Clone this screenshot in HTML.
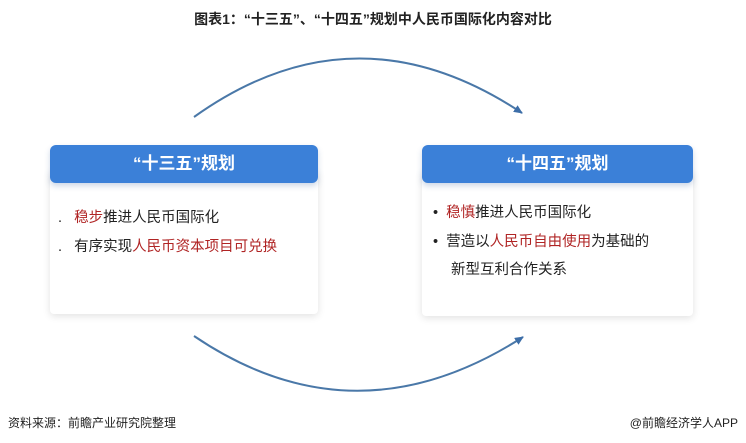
<!DOCTYPE html>
<html><head><meta charset="utf-8"><style>
body{margin:0;width:746px;height:443px;background:#fff;font-family:"Liberation Sans","Noto Sans CJK SC",sans-serif;position:relative;overflow:hidden}
.t{position:absolute;white-space:nowrap}
.hd{position:absolute;height:38px;background:#3b80d8;border-radius:6px;color:#fff;font-weight:bold;font-size:17px;text-align:center;line-height:38px;box-shadow:0 3px 6px rgba(60,100,160,.25)}
.bd{position:absolute;background:#fff;box-shadow:0 2px 8px rgba(0,0,0,.12);border-radius:4px}
.r{color:#b02424}
.li{font-size:14.5px;color:#222}
</style></head><body>
<div class="t" style="left:0;width:746px;text-align:center;top:9px;font-size:14px;font-weight:bold;color:#222">图表1：“十三五”、“十四五”规划中人民币国际化内容对比</div>
<svg width="746" height="443" style="position:absolute;left:0;top:0">
<defs><marker id="a" markerUnits="userSpaceOnUse" markerWidth="10" markerHeight="10" refX="8" refY="4" orient="auto"><path d="M0,0 L9,4 L0,8 z" fill="#3d6ea8"/></marker></defs>
<path d="M194,117 Q355,2 522,113" fill="none" stroke="#4a78a8" stroke-width="2" marker-end="url(#a)"/>
<path d="M194,336 Q355,445 523,337" fill="none" stroke="#4a78a8" stroke-width="2" marker-end="url(#a)"/>
</svg>
<div class="bd" style="left:50px;top:170px;width:268px;height:144px"></div>
<div class="bd" style="left:422px;top:170px;width:271px;height:146px"></div>
<div class="hd" style="left:50px;top:145px;width:268px">“十三五”规划</div>
<div class="hd" style="left:422px;top:145px;width:271px">“十四五”规划</div>
<div class="t li" style="left:58px;top:206px">.&nbsp;&nbsp;&nbsp;<span class="r">稳步</span>推进人民币国际化</div>
<div class="t li" style="left:58px;top:235px">.&nbsp;&nbsp;&nbsp;有序实现<span class="r">人民币资本项目可兑换</span></div>
<div class="t li" style="left:433px;top:201px">•&nbsp;&nbsp;<span class="r">稳慎</span>推进人民币国际化</div>
<div class="t li" style="left:433px;top:230px">•&nbsp;&nbsp;营造以<span class="r">人民币自由使用</span>为基础的</div>
<div class="t li" style="left:451px;top:258px">新型互利合作关系</div>
<div class="t" style="left:8px;top:414px;font-size:12px;color:#222">资料来源：前瞻产业研究院整理</div>
<div class="t" style="right:8px;top:414px;font-size:12px;color:#222">@前瞻经济学人APP</div>
</body></html>
